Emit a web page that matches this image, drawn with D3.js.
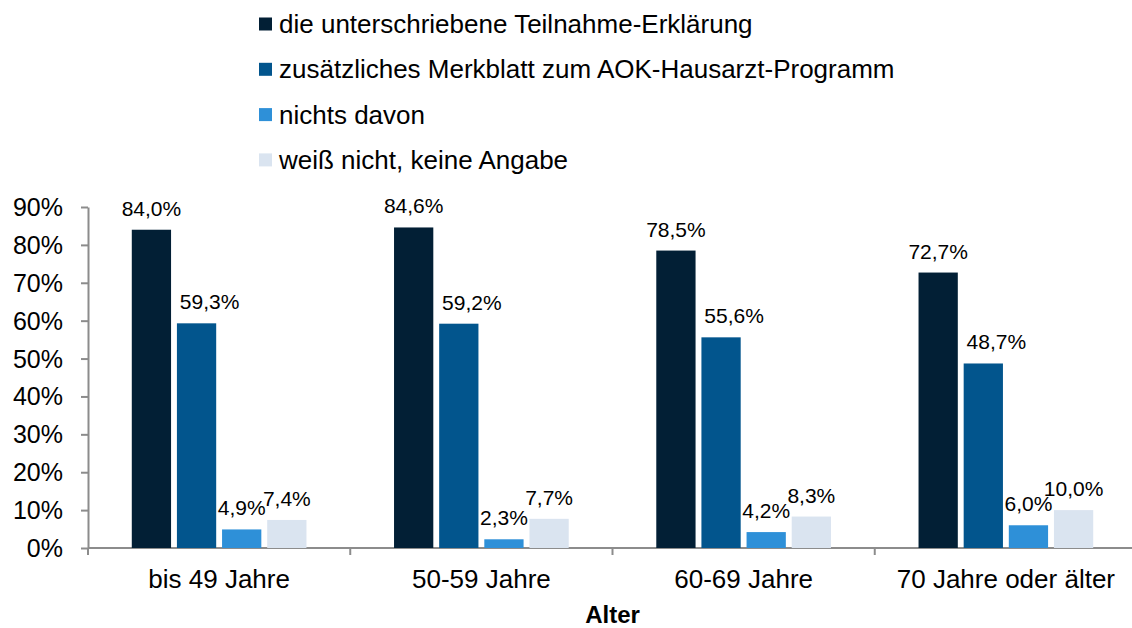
<!DOCTYPE html>
<html>
<head>
<meta charset="utf-8">
<script src="https://cdn.jsdelivr.net/npm/d3@7"></script>
<style>
    body { margin: 0; background: #fff; }
    text { font-family: "Liberation Sans", Arial, sans-serif; fill: #000; }
</style>
</head>
<body>
<div id="chart"></div>
<script>
    // data
    const categories = ["bis 49 Jahre", "50-59 Jahre", "60-69 Jahre", "70 Jahre oder älter"];
    const seriesNames = ["die unterschriebene Teilnahme-Erklärung", "zusätzliches Merkblatt zum AOK-Hausarzt-Programm",
        "nichts davon", "weiß nicht, keine Angabe"];
    const teilnahme = [84.0, 84.6, 78.5, 72.7];
    const merkblatt = [59.3, 59.2, 55.6, 48.7];
    const nichts = [4.9, 2.3, 4.2, 6.0];
    const weissNicht = [7.4, 7.7, 8.3, 10.0];
    const yTicks = [0, 10, 20, 30, 40, 50, 60, 70, 80, 90];
    const colors = ["#021f35", "#02558d", "#2e90d8", "#dae4f0"];
    const axisTitle = "Alter";

    const allSeries = [teilnahme, merkblatt, nichts, weissNicht];
    // the second series' labels sit a bit to the right of their bars
    const labelShift = [0, 13, 0, 0];

    const width = 1132, height = 628;
    const svg = d3.select("#chart").append("svg")
        .attr("width", width)
        .attr("height", height);

    const x0 = d3.scaleBand().domain(categories).range([88, 1137]).paddingInner(0).paddingOuter(0);
    const x1 = d3.scaleBand().domain(d3.range(seriesNames.length)).range([0, x0.bandwidth()])
        .paddingInner(0.13).paddingOuter(0.97);
    const y = d3.scaleLinear().domain([0, 90]).range([548, 207]);

    // y axis
    const yAxis = svg.append("g")
        .attr("transform", "translate(88,0)")
        .call(d3.axisLeft(y).tickValues(yTicks).tickSize(7).tickSizeOuter(0).tickPadding(18)
            .tickFormat(d => d + "%"));
    yAxis.select(".domain").attr("stroke", "#8c8c8c").attr("stroke-width", 2);
    yAxis.selectAll(".tick line").attr("stroke", "#8c8c8c").attr("stroke-width", 2);
    yAxis.selectAll(".tick text").style("font-size", "25px").attr("dy", "0.34em");

    // x axis line and group separators
    svg.append("line")
        .attr("x1", 88).attr("x2", width)
        .attr("y1", y(0)).attr("y2", y(0))
        .attr("stroke", "#8c8c8c").attr("stroke-width", 2);
    svg.selectAll("sepTicks")
        .data(categories.concat([null]))
        .join("line")
        .attr("x1", (d, i) => i < categories.length ? x0(d) : x0.range()[1])
        .attr("x2", (d, i) => i < categories.length ? x0(d) : x0.range()[1])
        .attr("y1", y(0)).attr("y2", y(0) + 7)
        .attr("stroke", "#8c8c8c").attr("stroke-width", 2);

    svg.selectAll("catLabels")
        .data(categories)
        .join("text")
        .attr("x", d => x0(d) + x0.bandwidth() / 2)
        .attr("y", 588)
        .attr("text-anchor", "middle")
        .style("font-size", "26px")
        .text(d => d);

    svg.append("text")
        .attr("x", (x0.range()[0] + x0.range()[1]) / 2)
        .attr("y", 623)
        .attr("text-anchor", "middle")
        .style("font-size", "24px")
        .style("font-weight", "bold")
        .text(axisTitle);

    // bars
    const groups = svg.selectAll("groups")
        .data(categories)
        .join("g")
        .attr("transform", d => "translate(" + x0(d) + ",0)");

    groups.selectAll("rect")
        .data((d, ci) => allSeries.map((s, si) => ({si: si, v: s[ci]})))
        .join("rect")
        .attr("x", d => x1(d.si))
        .attr("y", d => y(d.v))
        .attr("width", x1.bandwidth())
        .attr("height", d => y(0) - y(d.v))
        .attr("fill", d => colors[d.si]);

    groups.selectAll("valueLabels")
        .data((d, ci) => allSeries.map((s, si) => ({si: si, v: s[ci]})))
        .join("text")
        .attr("x", d => x1(d.si) + x1.bandwidth() / 2 + labelShift[d.si])
        .attr("y", d => y(d.v) - 14)
        .attr("text-anchor", "middle")
        .style("font-size", "21px")
        .text(d => d.v.toFixed(1).replace(".", ",") + "%");

    // legend
    const legend = svg.selectAll("legend")
        .data(seriesNames)
        .join("g")
        .attr("transform", (d, i) => "translate(259," + (24 + i * 45.3) + ")");
    legend.append("rect")
        .attr("x", 0).attr("y", -6.5)
        .attr("width", 13).attr("height", 13)
        .attr("fill", (d, i) => colors[i]);
    legend.append("text")
        .attr("x", 20).attr("y", 9)
        .style("font-size", "26px")
        .text(d => d);
</script>
</body>
</html>
